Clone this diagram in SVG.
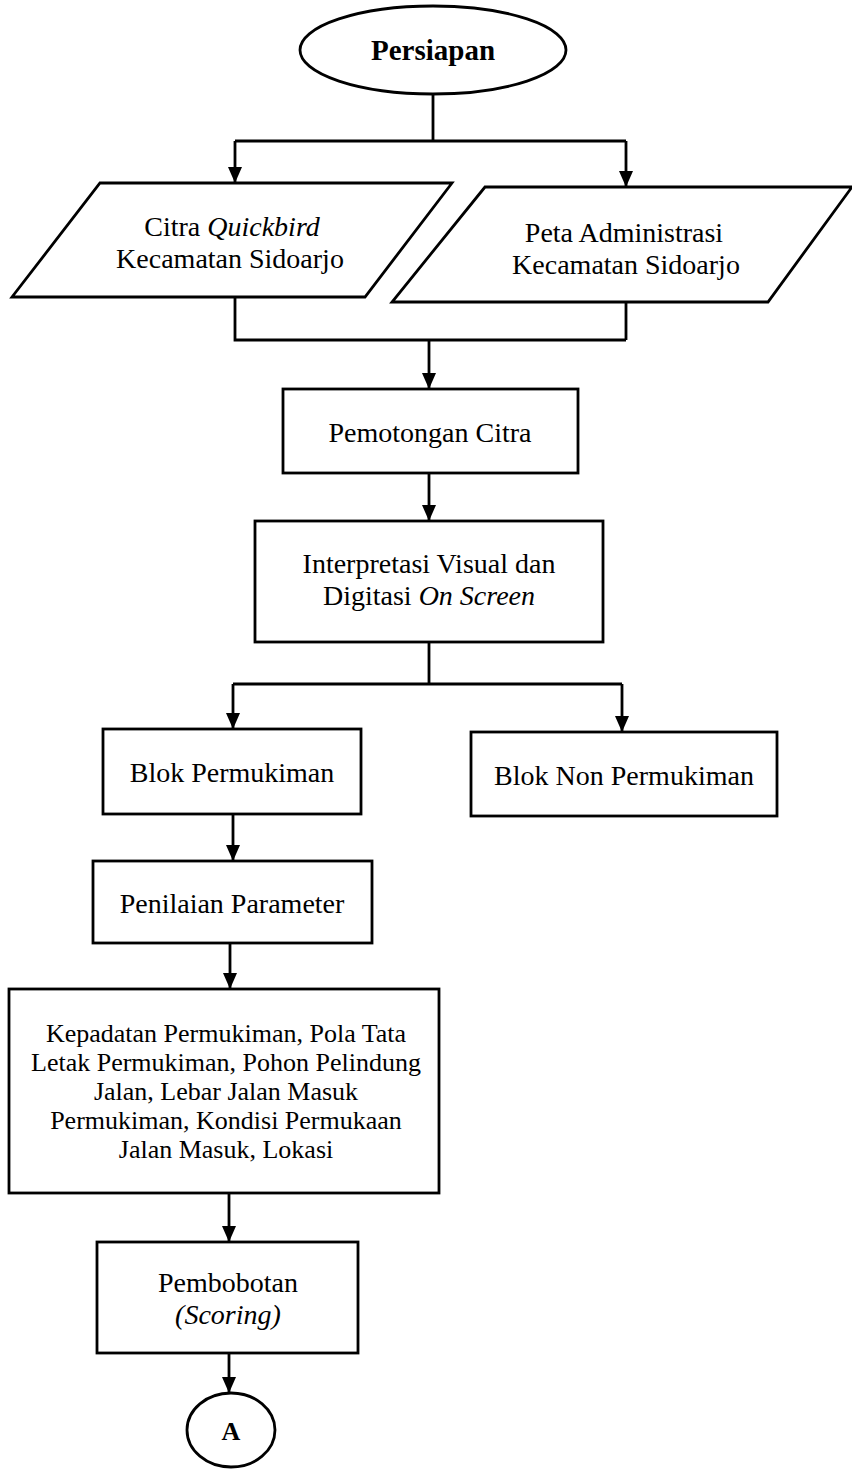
<svg xmlns="http://www.w3.org/2000/svg" width="852" height="1471" viewBox="0 0 852 1471">
<style>
.s{fill:#fff;stroke:#000;stroke-width:2.8}
.c{fill:none;stroke:#000;stroke-width:2.8}
.t{font-family:"Liberation Serif","Times New Roman",serif;font-size:28px;fill:#000;text-anchor:middle}
.b{font-weight:bold}
.i{font-style:italic}
.sm{font-size:26px}
</style>
<defs>
<marker id="ah" markerUnits="userSpaceOnUse" viewBox="0 0 16 14" refX="16" refY="7" markerWidth="16" markerHeight="14" orient="auto">
<path d="M0,0 L16,7 L0,14 z" fill="#000"/>
</marker>
</defs>
<g id="connectors">
<path class="c" d="M433,94 V141 M235,141 H626"/>
<path class="c" d="M235,141 V183" marker-end="url(#ah)"/>
<path class="c" d="M626,141 V187" marker-end="url(#ah)"/>
<path class="c" d="M235,297 V340 H626 M626,302 V340"/>
<path class="c" d="M429,340 V389" marker-end="url(#ah)"/>
<path class="c" d="M429,473 V521" marker-end="url(#ah)"/>
<path class="c" d="M429,642 V684 M233,684 H622"/>
<path class="c" d="M233,684 V729" marker-end="url(#ah)"/>
<path class="c" d="M622,684 V732" marker-end="url(#ah)"/>
<path class="c" d="M233,814 V861" marker-end="url(#ah)"/>
<path class="c" d="M230,943 V989" marker-end="url(#ah)"/>
<path class="c" d="M229,1193 V1242" marker-end="url(#ah)"/>
<path class="c" d="M229,1353 V1393" marker-end="url(#ah)"/>
</g>
<g id="persiapan">
<ellipse class="s" cx="433" cy="50" rx="133" ry="44"/>
<text class="t b" x="433" y="60" style="font-size:29px">Persiapan</text>
</g>
<g id="citra">
<polygon class="s" points="100,183 452,183 365,297 12,297"/>
<text class="t" x="232" y="236">Citra <tspan class="i">Quickbird</tspan></text>
<text class="t" x="230" y="268">Kecamatan Sidoarjo</text>
</g>
<g id="peta">
<polygon class="s" points="485,187 852,187 768,302 392,302"/>
<text class="t" x="624" y="242">Peta Administrasi</text>
<text class="t" x="626" y="274">Kecamatan Sidoarjo</text>
</g>
<g id="pemotongan">
<rect class="s" x="283" y="389" width="295" height="84"/>
<text class="t" x="430" y="442">Pemotongan Citra</text>
</g>
<g id="interpretasi">
<rect class="s" x="255" y="521" width="348" height="121"/>
<text class="t" x="429" y="573">Interpretasi Visual dan</text>
<text class="t" x="429" y="605">Digitasi <tspan class="i">On Screen</tspan></text>
</g>
<g id="blok-permukiman">
<rect class="s" x="103" y="729" width="258" height="85"/>
<text class="t" x="232" y="782">Blok Permukiman</text>
</g>
<g id="blok-non">
<rect class="s" x="471" y="732" width="306" height="84"/>
<text class="t" x="624" y="785">Blok Non Permukiman</text>
</g>
<g id="penilaian">
<rect class="s" x="93" y="861" width="279" height="82"/>
<text class="t" x="232" y="913">Penilaian Parameter</text>
</g>
<g id="parameter">
<rect class="s" x="9" y="989" width="430" height="204"/>
<text class="t sm" x="226" y="1042">Kepadatan Permukiman, Pola Tata</text>
<text class="t sm" x="226" y="1071">Letak Permukiman, Pohon Pelindung</text>
<text class="t sm" x="226" y="1100">Jalan, Lebar Jalan Masuk</text>
<text class="t sm" x="226" y="1129">Permukiman, Kondisi Permukaan</text>
<text class="t sm" x="226" y="1158">Jalan Masuk, Lokasi</text>
</g>
<g id="pembobotan">
<rect class="s" x="97" y="1242" width="261" height="111"/>
<text class="t" x="228" y="1292">Pembobotan</text>
<text class="t i" x="228" y="1324">(Scoring)</text>
</g>
<g id="a">
<ellipse class="s" cx="231" cy="1430" rx="44" ry="37"/>
<text class="t b sm" x="231" y="1440">A</text>
</g>
</svg>
